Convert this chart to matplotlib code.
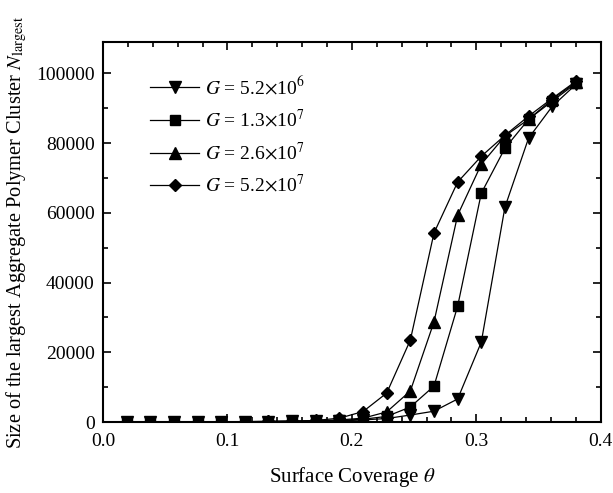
import matplotlib
matplotlib.use("Agg")
import matplotlib.pyplot as plt
from matplotlib.ticker import MultipleLocator

plt.rcParams['font.family'] = ['Liberation Serif', 'DejaVu Serif']
plt.rcParams['mathtext.fontset'] = 'stix'

# surface coverage sampled along the run
theta = [0.019, 0.038, 0.057, 0.076, 0.095, 0.114, 0.133, 0.152, 0.171, 0.190,
         0.209, 0.228, 0.247, 0.266, 0.285, 0.304, 0.323, 0.342, 0.361, 0.380]

# size of the largest cluster for each G
n_g1 = [30, 40, 50, 60, 80, 100, 130, 170, 220, 300,
        600, 1000, 2000, 3100, 6600, 22900, 61600, 81400, 90500, 96800]
n_g2 = [30, 40, 50, 60, 80, 100, 140, 200, 280, 450,
        800, 1600, 4300, 10300, 33200, 65600, 78500, 86800, 92000, 97100]
n_g3 = [30, 40, 50, 60, 80, 110, 150, 220, 350, 600,
        1100, 2900, 8900, 28700, 59300, 73900, 82000, 86800, 92500, 97400]
n_g4 = [30, 40, 50, 70, 90, 120, 170, 260, 450, 1100,
        3000, 8300, 23500, 54200, 68800, 76200, 82200, 87700, 92800, 97700]

labels = [r'$G$ = 5.2$\times$10$^{6}$', r'$G$ = 1.3$\times$10$^{7}$',
          r'$G$ = 2.6$\times$10$^{7}$', r'$G$ = 5.2$\times$10$^{7}$']

fig = plt.figure(figsize=(6.13, 4.93), dpi=100)
ax = fig.add_axes([0.168, 0.144, 0.812, 0.771])

ax.plot(theta, n_g1, '-v', color='black', lw=0.9, ms=8, label=labels[0])
ax.plot(theta, n_g2, '-s', color='black', lw=0.9, ms=6.5, label=labels[1])
ax.plot(theta, n_g3, '-^', color='black', lw=0.9, ms=8, label=labels[2])
ax.plot(theta, n_g4, '-D', color='black', lw=0.9, ms=6.5, label=labels[3])

ax.set_xlim(0.0, 0.4)
ax.set_ylim(0, 109000)
ax.xaxis.set_major_locator(MultipleLocator(0.1))
ax.xaxis.set_minor_locator(MultipleLocator(0.02))
ax.yaxis.set_major_locator(MultipleLocator(20000))
ax.yaxis.set_minor_locator(MultipleLocator(10000))
ax.tick_params(which='both', direction='in', top=True, right=True,
               labelsize=14, width=1.2)
ax.tick_params(which='major', length=6)
ax.tick_params(axis='x', which='major', pad=8)
ax.tick_params(axis='y', which='major', pad=6)
ax.tick_params(which='minor', length=3.5)
ax.xaxis.set_major_formatter(plt.FuncFormatter(lambda v, p: f'{v:.1f}'))
for sp in ax.spines.values():
    sp.set_linewidth(1.5)

ax.set_xlabel(r'Surface Coverage $\theta$', fontsize=15, labelpad=11)
ax.set_ylabel(r'Size of the largest Aggregate Polymer Cluster $N_{\mathrm{largest}}$',
              fontsize=14.7, labelpad=5)

ax.legend(loc='upper left', bbox_to_anchor=(0.06, 0.958), frameon=False,
          fontsize=14, handlelength=2.5, labelspacing=0.55, handletextpad=0.3)

fig.savefig('out.png', dpi=100)
